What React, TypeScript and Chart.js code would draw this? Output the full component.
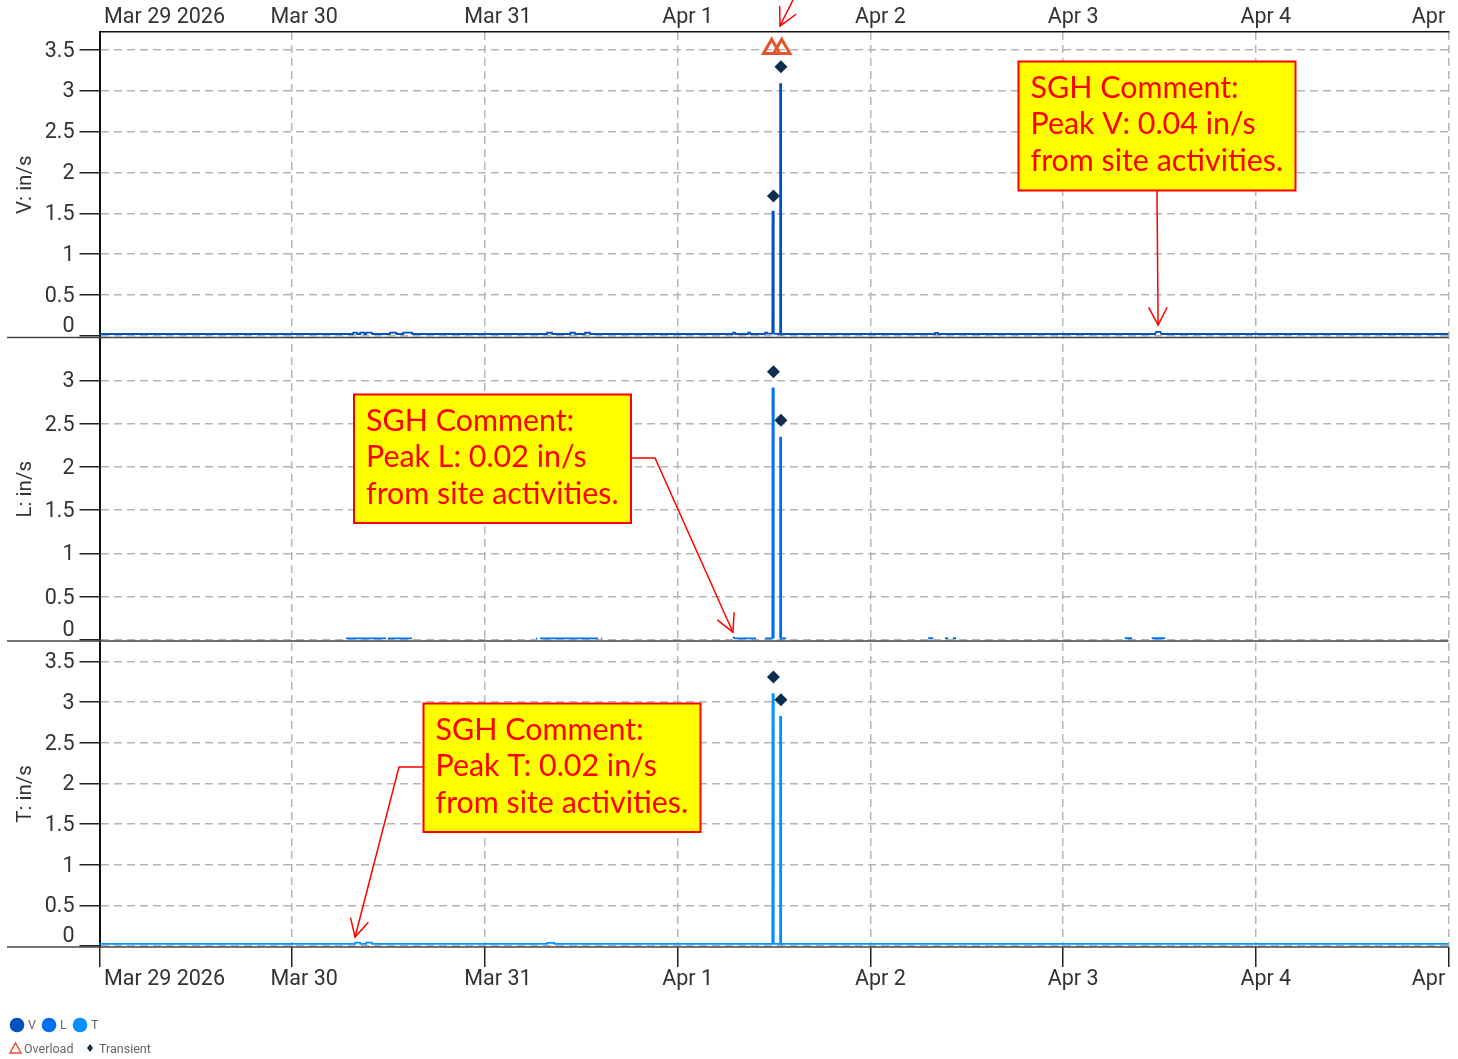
import React, { useEffect, useRef } from "react";
import { Chart, registerables } from "chart.js";

Chart.register(...registerables);

const dayTicks = [0, 1, 2, 3, 4, 5, 6, 7];
const dayLabels = ["Mar 29 2026", "Mar 30", "Mar 31", "Apr 1", "Apr 2", "Apr 3", "Apr 4", "Apr"];
const vTicks = [0, 0.5, 1, 1.5, 2, 2.5, 3, 3.5];
const lTicks = [0, 0.5, 1, 1.5, 2, 2.5, 3];
const tTicks = [0, 0.5, 1, 1.5, 2, 2.5, 3, 3.5];

const vDays = [0, 1.316, 1.317, 1.336, 1.337, 1.352, 1.353, 1.373, 1.374, 1.383, 1.384, 1.414, 1.415, 1.507, 1.508, 1.539, 1.54, 1.575, 1.576, 1.622, 1.623, 2.322, 2.323, 2.348, 2.349, 2.442, 2.443, 2.467, 2.468, 2.519, 2.52, 2.545, 2.546, 3.287, 3.288, 3.298, 3.299, 3.365, 3.366, 3.376, 3.377, 3.453, 3.454, 3.464, 3.465, 3.494, 3.495, 3.496, 3.533, 3.534, 3.535, 4.336, 4.337, 4.35, 4.351, 5.478, 5.483, 5.505, 5.51, 7];
const vValues = [0.025, 0.025, 0.042, 0.042, 0.025, 0.025, 0.042, 0.042, 0.025, 0.025, 0.042, 0.042, 0.025, 0.025, 0.042, 0.042, 0.025, 0.025, 0.042, 0.042, 0.025, 0.025, 0.04, 0.04, 0.025, 0.025, 0.04, 0.04, 0.025, 0.025, 0.04, 0.04, 0.025, 0.025, 0.042, 0.042, 0.025, 0.025, 0.042, 0.042, 0.025, 0.025, 0.042, 0.042, 0.03, 0.03, 1.53, 0.03, 0.025, 3.09, 0.025, 0.025, 0.038, 0.038, 0.025, 0.025, 0.05, 0.05, 0.025, 0.025];

const lDays = [1.279, 1.487, 1.488, 1.497, 1.622, 1.623, 2.265, 2.27, 2.271, 2.286, 2.587, 2.588, 2.603, 2.608, 2.609, 3.287, 3.297, 3.407, 3.408, 3.453, 3.494, 3.495, 3.496, 3.497, 3.533, 3.534, 3.535, 3.563, 3.564, 4.3, 4.326, 4.327, 4.387, 4.403, 4.404, 4.428, 4.445, 4.446, 5.32, 5.358, 5.359, 5.46, 5.53];
const lValues = [0.018, 0.018, null, 0.018, 0.018, null, 0.018, 0.018, null, 0.018, 0.018, null, 0.018, 0.018, null, 0.035, 0.018, 0.018, null, 0.018, 0.018, 2.92, 0.018, null, 0.018, 2.35, 0.018, 0.018, null, 0.02, 0.02, null, 0.02, 0.02, null, 0.02, 0.02, null, 0.02, 0.02, null, 0.02, 0.02];

const tDays = [0, 1.326, 1.327, 1.352, 1.353, 1.383, 1.384, 1.414, 1.415, 2.322, 2.323, 2.36, 2.361, 3.494, 3.495, 3.496, 3.533, 3.534, 3.535, 7];
const tValues = [0.025, 0.025, 0.042, 0.042, 0.025, 0.025, 0.042, 0.042, 0.025, 0.025, 0.038, 0.038, 0.025, 0.025, 3.11, 0.025, 0.025, 2.83, 0.025, 0.025];

const transientDays = [3.497, 3.536];
const vTransient = [1.71, 3.29];
const lTransient = [3.1, 2.54];
const tTransient = [3.31, 3.03];
const overloadDays = [3.488, 3.54];
const vOverload = [3.51, 3.51];

const seriesColors = { V: "#0052BD", L: "#0070F0", T: "#0090FF" };
const overloadColor = "#E8532B";
const transientColor = "#0D2F4F";
const inkColor = "#333333";
const gridColor = "#B5B5B5";
const calloutRed = "#FF0000";
const calloutYellow = "#FFFF00";

const calloutLines = [
  ["SGH Comment:", "Peak V: 0.04 in/s", "from site activities."],
  ["SGH Comment:", "Peak L: 0.02 in/s", "from site activities."],
  ["SGH Comment:", "Peak T: 0.02 in/s", "from site activities."],
];
const calloutBoxes = [
  { x: 1018.5, y: 61.5, w: 277, h: 129, axis: "yV", tipDay: 5.493, tipValue: 0.134, path: [[1157, 191]] },
  { x: 354, y: 394.5, w: 277, h: 128.5, axis: "yL", tipDay: 3.287, tipValue: 0.09, path: [[631, 458], [655, 458]] },
  { x: 423.5, y: 703.5, w: 277, h: 128.5, axis: "yT", tipDay: 1.326, tipValue: 0.11, path: [[423, 767], [399, 767]] },
];
const topArrow = { axis: "yV", tipDay: 3.531, tipValue: 3.79, from: [793, 0] };

const xLabelShift = [65, 12, 13, 10, 10, 10, 10, -20];

function points(xs: number[], ys: (number | null)[]) {
  return xs.map((x, i) => ({ x, y: ys[i] }));
}

function drawArrowHead(ctx: CanvasRenderingContext2D, fx: number, fy: number, tx: number, ty: number) {
  const a = Math.atan2(ty - fy, tx - fx);
  const len = 20;
  const spread = 0.48;
  ctx.beginPath();
  ctx.moveTo(tx - len * Math.cos(a - spread), ty - len * Math.sin(a - spread));
  ctx.lineTo(tx, ty);
  ctx.lineTo(tx - len * Math.cos(a + spread), ty - len * Math.sin(a + spread));
  ctx.stroke();
}

const labelNudgePlugin = {
  id: "labelNudge",
  beforeDraw(chart: any) {
    const a = chart.chartArea;
    for (const id of ["x", "xTop"]) {
      const items = chart.scales[id].getLabelItems(a);
      if (items.__done) continue;
      items.__done = true;
      items.forEach((it: any, i: number) => {
        it.options.translation[0] += xLabelShift[i];
      });
    }
    for (const id of ["yV", "yL", "yT"]) {
      const items = chart.scales[id].getLabelItems(a);
      if (items.__done) continue;
      items.__done = true;
      items.forEach((it: any) => {
        it.options.translation[1] += 1.5;
        if (it.label === "0") it.options.translation[1] -= 11;
      });
    }
  },
};

const overlayPlugin = {
  id: "overlay",
  afterDraw(chart: any) {
    const ctx: CanvasRenderingContext2D = chart.ctx;
    const { x, yV, yL, yT } = chart.scales;
    ctx.save();

    // panel separators
    ctx.strokeStyle = "#444444";
    ctx.lineWidth = 1.5;
    for (const s of [yV, yL, yT]) {
      ctx.beginPath();
      ctx.moveTo(7, s.bottom);
      ctx.lineTo(x.right, s.bottom);
      ctx.stroke();
    }

    // callouts
    ctx.lineJoin = "miter";
    calloutBoxes.forEach((b, i) => {
      const tx = x.getPixelForValue(b.tipDay);
      const ty = chart.scales[b.axis].getPixelForValue(b.tipValue);
      ctx.strokeStyle = calloutRed;
      ctx.lineWidth = 1.5;
      ctx.beginPath();
      ctx.moveTo(b.path[0][0], b.path[0][1]);
      b.path.slice(1).forEach((p) => ctx.lineTo(p[0], p[1]));
      ctx.lineTo(tx, ty);
      ctx.stroke();
      const last = b.path[b.path.length - 1];
      drawArrowHead(ctx, last[0], last[1], tx, ty);
      ctx.fillStyle = calloutYellow;
      ctx.fillRect(b.x, b.y, b.w, b.h);
      ctx.lineWidth = 2;
      ctx.strokeRect(b.x, b.y, b.w, b.h);
      ctx.fillStyle = calloutRed;
      ctx.font = "30.4px Lato";
      ctx.textAlign = "left";
      ctx.textBaseline = "alphabetic";
      calloutLines[i].forEach((t, k) => ctx.fillText(t, b.x + 12, b.y + 36 + k * 36.7));
    });

    // arrow above the plot
    const ax = x.getPixelForValue(topArrow.tipDay);
    const ay = chart.scales[topArrow.axis].getPixelForValue(topArrow.tipValue);
    ctx.strokeStyle = calloutRed;
    ctx.lineWidth = 1.5;
    ctx.beginPath();
    ctx.moveTo(topArrow.from[0], topArrow.from[1]);
    ctx.lineTo(ax, ay);
    ctx.stroke();
    drawArrowHead(ctx, topArrow.from[0], topArrow.from[1], ax, ay);

    // legend
    ctx.textBaseline = "middle";
    ctx.textAlign = "left";
    ctx.font = "12.5px Roboto";
    const row1: [string, string, number][] = [
      ["V", seriesColors.V, 17],
      ["L", seriesColors.L, 49],
      ["T", seriesColors.T, 80],
    ];
    row1.forEach(([name, color, cx]) => {
      ctx.fillStyle = color;
      ctx.beginPath();
      ctx.arc(cx, 1025, 7.3, 0, Math.PI * 2);
      ctx.fill();
      ctx.fillStyle = "#666666";
      ctx.fillText(name, cx + 11, 1026);
    });
    ctx.strokeStyle = overloadColor;
    ctx.lineWidth = 1.5;
    ctx.beginPath();
    ctx.moveTo(15.5, 1043);
    ctx.lineTo(21, 1053);
    ctx.lineTo(10, 1053);
    ctx.closePath();
    ctx.stroke();
    ctx.fillStyle = "#666666";
    ctx.fillText("Overload", 24, 1050);
    ctx.fillStyle = transientColor;
    ctx.beginPath();
    ctx.moveTo(90, 1044);
    ctx.lineTo(93, 1048);
    ctx.lineTo(90, 1052);
    ctx.lineTo(87, 1048);
    ctx.closePath();
    ctx.fill();
    ctx.fillStyle = "#666666";
    ctx.fillText("Transient", 99, 1050);

    ctx.restore();
  },
};

function yScale(ticks: number[], min: number, max: number, weight: number, title: string) {
  return {
    type: "linear",
    position: "left",
    stack: "panels",
    stackWeight: weight,
    min,
    max,
    afterBuildTicks: (s: any) => {
      s.ticks = ticks.map((value) => ({ value }));
    },
    afterFit: (s: any) => {
      s.width = 99.5;
    },
    title: {
      display: true,
      text: title,
      color: inkColor,
      font: { family: "Roboto", size: 20.5 },
      padding: { top: 14, bottom: 0 },
    },
    ticks: {
      color: inkColor,
      font: { family: "Roboto", size: 21.5 },
      padding: 5,
      autoSkip: false,
      callback: (v: any) => String(v),
    },
    grid: {
      color: gridColor,
      lineWidth: 1.5,
      tickColor: "#222222",
      tickLength: 20,
      tickWidth: 1.5,
      tickBorderDash: [],
    },
    border: { display: true, color: "#111111", width: 2, dash: [8, 5] },
  };
}

function xScale(position: "top" | "bottom", size: number) {
  const isBottom = position === "bottom";
  return {
    type: "linear",
    position,
    min: dayTicks[0],
    max: dayTicks[dayTicks.length - 1],
    afterBuildTicks: (s: any) => {
      s.ticks = dayTicks.map((value) => ({ value }));
    },
    afterFit: (s: any) => {
      s.height = size;
      s.paddingLeft = 0;
      s.paddingRight = 0;
    },
    ticks: {
      color: inkColor,
      font: { family: "Roboto", size: 21.5 },
      padding: isBottom ? 0 : 1,
      autoSkip: false,
      maxRotation: 0,
      minRotation: 0,
      callback: (_v: any, i: number) => dayLabels[i],
    },
    grid: {
      display: true,
      drawOnChartArea: isBottom,
      drawTicks: isBottom,
      color: gridColor,
      lineWidth: 1.5,
      tickColor: "#222222",
      tickLength: 20,
      tickWidth: 1.5,
      tickBorderDash: [],
    },
    border: { display: !isBottom, color: "#111111", width: 1.5, dash: [8, 5] },
  };
}

function lineSet(label: string, xs: number[], ys: (number | null)[], color: string, axis: string) {
  return {
    type: "line",
    label,
    data: points(xs, ys),
    borderColor: color,
    backgroundColor: color,
    borderWidth: 2.8,
    pointRadius: 0,
    tension: 0,
    spanGaps: false,
    xAxisID: "x",
    yAxisID: axis,
    order: 2,
    segment: {
      borderWidth: (c: any) => (Math.abs(c.p0.parsed.y - c.p1.parsed.y) > 0.2 ? 2.8 : 1.8),
    },
  };
}

function transientSet(ys: number[], axis: string) {
  return {
    type: "scatter",
    label: "Transient",
    data: points(transientDays, ys),
    pointStyle: "rectRot",
    pointRadius: 6.5,
    pointBorderWidth: 0,
    backgroundColor: transientColor,
    borderColor: transientColor,
    xAxisID: "x",
    yAxisID: axis,
    order: 1,
  };
}

export default function App() {
  const ref = useRef<HTMLCanvasElement | null>(null);

  useEffect(() => {
    if (!ref.current) return;
    const chart = new Chart(ref.current, {
      data: {
        datasets: [
          lineSet("V", vDays, vValues, seriesColors.V, "yV"),
          lineSet("L", lDays, lValues, seriesColors.L, "yL"),
          lineSet("T", tDays, tValues, seriesColors.T, "yT"),
          transientSet(vTransient, "yV"),
          transientSet(lTransient, "yL"),
          transientSet(tTransient, "yT"),
          {
            type: "scatter",
            label: "Overload",
            data: points(overloadDays, vOverload),
            pointStyle: "triangle",
            pointRadius: 9.5,
            pointBorderWidth: 3,
            pointBackgroundColor: "rgba(0,0,0,0)",
            pointBorderColor: overloadColor,
            xAxisID: "x",
            yAxisID: "yV",
            order: 0,
          },
        ],
      } as any,
      options: {
        responsive: false,
        animation: false,
        devicePixelRatio: 1,
        layout: { autoPadding: false, padding: { left: 0, right: 9.5, top: 0, bottom: 0 } },
        plugins: { legend: { display: false }, tooltip: { enabled: false }, title: { display: false } },
        scales: {
          xTop: xScale("top", 32),
          x: xScale("bottom", 112),
          yT: yScale(tTicks, -0.0123, 3.752, 306, "T: in/s"),
          yL: yScale(lTicks, -0.0116, 3.497, 303.5, "L: in/s"),
          yV: yScale(vTicks, -0.018, 3.716, 305.5, "V: in/s"),
        },
      } as any,
      plugins: [labelNudgePlugin, overlayPlugin] as any,
    });
    return () => chart.destroy();
  }, []);

  return (
    <div style={{ position: "absolute", left: 0, top: 0, width: 1458, height: 1059, background: "#fff" }}>
      <canvas ref={ref} width={1458} height={1059} style={{ display: "block" }} />
    </div>
  );
}
